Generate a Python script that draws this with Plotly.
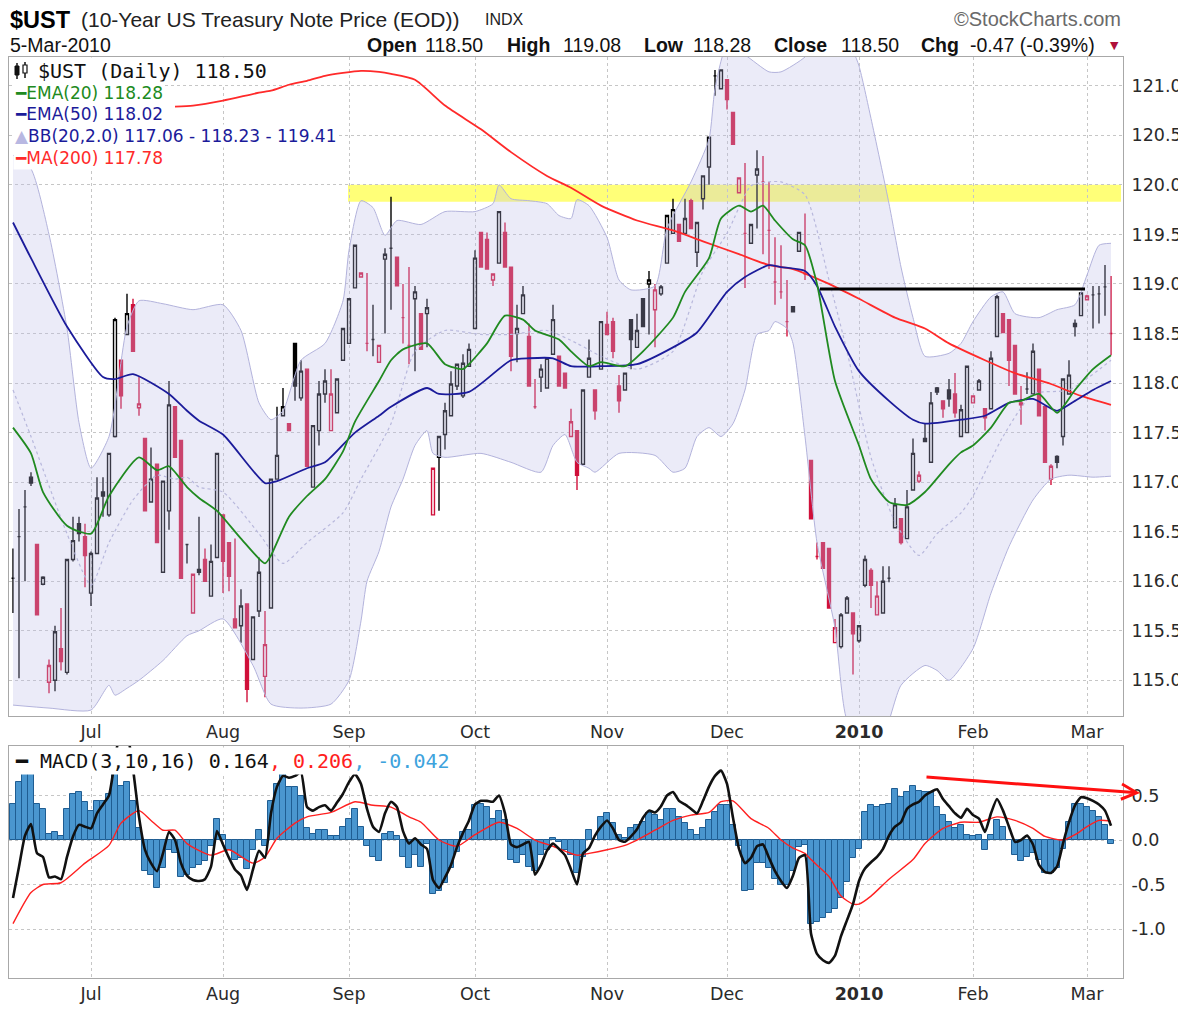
import pandas as pd
import plotly.graph_objects as go

# ---------------- categories (trading days) ----------------
HOLIDAYS = ["2009-07-03", "2009-09-07", "2009-11-26", "2009-12-25",
            "2010-01-01", "2010-01-18", "2010-02-15"]
DATES = [d for d in pd.bdate_range("2009-06-12", "2010-03-05")
         if d.strftime("%Y-%m-%d") not in HOLIDAYS]
X = list(range(len(DATES)))

# ---------------- price data ----------------
OPEN = [116.03,116.45,116.75,117.05,116.37,115.97,114.98,115.00,115.32,115.08,
        116.22,116.58,116.45,115.88,116.28,116.90,116.67,117.46,118.23,118.49,
        118.79,117.75,117.44,116.80,117.18,116.09,116.71,117.76,117.42,116.37,
        115.68,116.12,116.22,115.85,116.24,116.67,116.39,115.62,115.55,115.77,
        115.21,115.70,115.04,115.73,117.03,117.67,117.59,118.40,117.85,118.14,
        116.95,117.52,117.89,117.52,117.70,118.23,118.40,118.96,119.07,118.40,
        118.44,118.21,119.25,119.36,119.27,118.66,118.38,118.85,118.70,118.70,
        116.67,117.25,117.48,117.67,117.97,117.87,118.17,118.55,119.52,119.45,
        119.04,119.21,119.52,119.17,118.50,118.70,118.47,117.76,118.06,117.95,
        118.29,118.27,118.10,117.46,117.52,117.18,118.06,117.93,118.14,118.59,
        118.62,117.97,117.93,118.64,118.36,118.85,119.00,118.74,118.90,119.21,
        119.51,119.60,119.51,119.84,119.32,119.86,120.18,121.10,120.97,121.06,
        120.73,119.92,119.51,119.41,120.10,120.03,119.54,119.02,118.92,118.62,
        118.77,119.33,119.10,117.22,116.25,116.39,116.33,115.38,115.34,115.68,
        115.68,115.40,115.96,116.11,115.66,115.68,116.03,116.54,116.63,116.43,
        116.92,117.01,117.44,117.20,117.95,117.82,117.93,117.89,117.46,117.50,
        117.80,117.93,117.74,117.74,118.47,118.70,118.64,118.38,117.80,117.94,
        117.89,118.14,117.76,117.03,117.26,117.46,117.89,118.60,118.68,118.84,
        118.89,118.90,118.97,118.50]
HIGH = [116.33,116.73,116.92,117.10,116.37,116.05,115.21,115.55,115.73,116.22,
        116.65,116.65,116.58,116.30,117.05,117.05,117.29,118.66,118.23,118.90,
        118.85,118.06,117.44,117.35,117.18,117.01,118.02,117.76,117.42,116.37,
        116.07,116.65,116.33,116.37,117.29,116.67,116.39,116.43,115.92,115.77,
        115.64,116.24,115.70,117.03,117.76,117.95,117.59,118.40,118.23,118.14,
        117.57,118.02,118.14,118.14,118.04,118.55,118.85,119.39,119.11,119.11,
        118.79,118.38,119.36,119.88,119.27,119.00,119.17,118.98,118.70,118.85,
        117.14,117.46,117.80,118.12,118.19,118.29,118.40,119.34,119.52,119.52,
        119.10,119.73,119.62,119.17,118.79,118.98,118.60,118.04,118.19,118.25,
        118.79,118.27,118.10,117.74,117.52,117.93,118.44,117.93,118.62,118.72,
        118.66,118.08,118.10,118.64,118.70,118.85,119.13,119.00,118.99,119.69,
        119.86,119.60,119.86,119.86,119.62,120.09,120.48,121.16,121.16,121.06,
        120.73,120.07,120.22,119.60,120.35,120.29,120.03,119.47,119.39,119.04,
        118.77,119.52,119.71,117.22,116.39,116.39,116.33,115.62,115.68,115.85,
        115.68,115.55,116.26,116.13,116.00,116.15,116.15,116.84,116.63,116.92,
        117.44,117.11,117.59,117.91,117.96,117.82,118.04,118.10,117.78,118.17,
        117.87,118.04,117.74,118.32,118.89,118.70,118.64,118.38,117.97,118.11,
        118.40,118.14,117.76,117.18,117.27,118.04,118.23,118.64,118.91,118.89,
        118.98,118.98,119.19,119.08]
LOW = [115.68,115.02,116.00,116.96,115.66,115.96,114.87,114.89,115.10,115.06,
       116.20,116.40,115.94,115.75,116.28,116.65,116.65,117.45,117.74,118.49,
       118.32,117.67,116.71,116.80,116.39,116.09,116.52,117.25,116.03,116.18,
       115.68,116.06,116.00,115.85,116.24,115.88,115.90,115.53,115.38,114.78,
       115.21,115.64,114.83,115.73,117.03,117.67,117.52,117.82,117.82,117.16,
       116.95,117.37,117.80,117.52,117.70,118.23,118.40,118.96,119.07,118.32,
       118.27,118.21,118.50,118.74,118.98,118.40,118.19,118.12,118.34,118.36,
       116.67,116.71,117.33,117.67,117.93,117.85,118.17,118.55,119.17,119.15,
       118.98,119.21,119.17,118.12,118.21,118.70,117.97,117.74,117.91,117.95,
       118.29,117.97,117.95,117.46,116.92,117.18,118.06,117.63,118.14,118.49,
       118.25,117.70,117.93,118.14,118.36,118.57,118.49,118.36,118.88,119.21,
       119.51,119.43,119.51,119.56,119.17,119.75,120.00,120.90,120.97,120.76,
       120.41,119.92,118.96,119.41,119.56,119.30,119.15,118.79,118.85,118.47,
       118.72,119.33,119.04,116.63,116.22,116.13,115.73,115.38,115.32,115.68,
       115.06,115.38,115.94,115.73,115.66,115.68,115.99,116.54,116.37,116.43,
       116.92,116.99,117.41,117.20,117.88,117.65,117.76,117.65,117.46,117.50,
       117.80,117.93,117.52,117.74,118.47,118.51,117.97,117.89,117.58,117.89,
       117.89,117.67,117.20,116.97,117.14,117.37,117.89,118.47,118.68,118.84,
       118.55,118.60,118.68,118.28]
CLOSE = [116.03,116.45,116.75,116.99,115.66,116.04,115.15,115.49,115.19,116.22,
         116.41,116.48,116.26,116.28,116.84,116.86,117.29,118.64,117.87,118.70,
         118.32,117.79,116.71,117.03,116.39,117.01,117.78,117.25,116.03,116.37,
         116.07,116.09,116.00,116.20,117.29,116.20,116.05,115.53,115.75,114.91,
         115.64,116.09,115.36,117.03,117.27,117.76,117.52,117.97,118.12,117.16,
         117.57,117.89,118.02,117.89,118.04,118.55,118.85,119.39,119.11,118.40,
         118.44,118.38,119.30,119.36,118.98,118.66,118.38,118.92,118.34,118.76,
         117.14,117.46,117.72,117.99,118.19,118.20,118.34,119.26,119.17,119.15,
         119.10,119.73,119.17,118.27,118.55,118.89,117.97,117.76,118.14,118.25,
         118.64,117.97,117.95,117.61,117.07,117.93,118.25,117.72,118.62,118.49,
         118.32,117.82,118.10,118.44,118.53,118.57,119.04,118.94,118.97,119.69,
         119.75,119.43,119.66,119.56,119.62,120.09,120.48,121.10,121.16,120.86,
         120.41,120.07,119.51,119.60,120.16,120.03,119.54,119.02,118.92,118.62,
         118.72,119.52,119.10,116.63,116.25,116.13,115.73,115.53,115.66,115.83,
         115.47,115.55,116.22,115.96,115.85,116.00,116.03,116.77,116.39,116.75,
         117.29,117.07,117.41,117.80,117.91,117.74,117.84,117.70,117.73,118.17,
         117.87,118.02,117.65,118.25,118.87,118.51,118.23,117.89,117.78,117.94,
         118.32,117.67,117.20,117.16,117.20,118.04,118.08,118.57,118.91,118.88,
         118.89,118.90,118.97,118.50]

# ---------------- overlays (sampled by trading-day index) ----------------
EMA20_IDX = [0,3,5,9,13,16,21,24,26,29,31,34,38,42,43,46,49,52,55,57,61,63,65,69,72,
             75,76,79,82,85,87,91,93,96,98,102,105,110,112,116,118,121,123,125,127,
             130,132,134,137,141,143,146,149,152,156,158,160,163,166,168,171,174,177,180,183]
EMA20_VAL = [117.55,117.29,116.90,116.56,116.48,116.86,117.25,117.12,117.16,116.95,
             116.84,116.71,116.43,116.18,116.26,116.65,116.86,117.03,117.31,117.61,
             118.02,118.23,118.34,118.40,118.19,118.14,118.19,118.40,118.68,118.64,
             118.53,118.44,118.32,118.17,118.21,118.17,118.32,118.66,118.92,119.26,
             119.66,119.79,119.73,119.79,119.64,119.45,119.39,119.00,118.02,117.37,
             117.03,116.80,116.77,116.90,117.18,117.30,117.37,117.55,117.80,117.82,
             117.89,117.70,117.93,118.14,118.28]
EMA50_IDX = [0,3,9,15,17,20,26,29,31,35,42,44,49,52,57,61,63,69,71,76,83,86,90,93,98,
             104,110,114,119,122,126,128,132,134,137,141,146,150,152,158,162,166,170,
             174,177,180,183]
EMA50_VAL = [119.62,119.26,118.57,118.06,118.04,118.09,117.89,117.72,117.62,117.48,
             116.99,117.01,117.14,117.20,117.50,117.67,117.76,117.95,117.89,117.91,
             118.23,118.25,118.25,118.17,118.17,118.19,118.36,118.51,118.92,119.07,
             119.19,119.17,119.13,118.98,118.57,118.12,117.82,117.63,117.59,117.63,
             117.67,117.80,117.84,117.72,117.82,117.93,118.02]
MA200_IDX = [27,30,35,41,43,46,49,52,55,58,61,63,67,72,78,83,89,93,98,104,110,115,121,
             126,130,136,141,147,152,156,162,167,173,178,183]
MA200_VAL = [120.79,120.80,120.85,120.93,120.95,121.01,121.05,121.10,121.13,121.15,
             121.14,121.12,121.06,120.80,120.56,120.33,120.09,119.97,119.79,119.64,
             119.54,119.43,119.30,119.19,119.15,119.00,118.85,118.66,118.55,118.40,
             118.23,118.10,117.99,117.87,117.78]
BBU_IDX = [0,3,6,9,11,13,16,19,21,25,30,35,38,41,43,45,48,52,55,56,58,60,62,64,68,72,
           77,80,81,83,86,89,91,93,94,96,99,101,103,107,109,113,116,117,119,122,126,128,
           132,134,137,140,141,143,146,148,150,152,156,158,160,163,165,167,171,174,177,
           179,181,183]
BBU_VAL = [120.30,120.16,119.50,118.55,117.60,117.14,117.46,118.57,118.83,118.80,
           118.74,118.79,118.53,117.80,117.63,117.72,118.23,118.40,118.83,119.34,
           119.84,119.77,119.49,119.64,119.60,119.73,119.73,119.81,120.00,119.86,
           119.84,119.81,119.69,119.66,119.85,119.79,119.47,119.04,118.94,118.98,
           119.56,120.03,120.46,120.97,121.40,121.31,121.14,121.14,121.29,121.45,
           121.60,121.35,121.20,120.67,119.81,119.17,118.66,118.27,118.30,118.40,
           118.62,118.87,118.92,118.70,118.66,118.74,118.79,119.09,119.39,119.41]
BBL_IDX = [0,6,13,16,17,19,21,25,29,31,35,40,43,48,53,56,58,59,61,63,65,67,69,70,72,
           78,83,88,90,92,94,96,97,101,107,110,112,114,116,118,120,122,124,126,127,129,
           130,132,134,137,139,142,145,148,152,154,156,160,163,166,170,173,176,180,183]
BBL_VAL = [114.75,114.72,114.70,114.95,114.85,114.92,115.00,115.20,115.45,115.50,
           115.62,115.15,114.76,114.72,114.76,115.00,115.60,116.00,116.30,116.75,
           117.03,117.37,117.52,117.29,117.25,117.29,117.20,117.10,117.37,117.48,
           117.20,117.14,117.10,117.29,117.27,117.10,117.14,117.46,117.55,117.46,
           117.59,117.93,118.49,118.53,118.62,118.55,118.40,117.46,116.39,115.53,
           114.60,114.40,114.45,114.95,115.15,115.10,115.00,115.32,115.88,116.35,
           116.82,117.03,117.07,117.05,117.06]
BBM_IDX = [0,3,9,13,16,20,24,27,29,31,35,41,45,49,55,58,63,67,72,78,83,89,94,98,104,
           110,115,119,123,126,128,132,136,139,143,147,151,154,158,160,165,170,176,183]
BBM_VAL = [117.93,117.46,116.48,115.96,116.39,116.82,117.07,117.03,117.05,116.95,
           116.90,116.48,116.18,116.39,116.69,117.03,117.59,118.32,118.53,118.49,
           118.49,118.53,118.40,118.27,118.14,118.32,119.13,119.51,119.99,120.03,
           120.03,119.90,119.04,118.32,117.25,116.60,116.26,116.48,116.69,116.86,
           117.46,117.89,117.93,118.23]

# ---------------- MACD panel ----------------
MACD = [-0.65,-0.30,0.05,0.18,-0.15,-0.19,-0.42,-0.41,-0.44,-0.19,
        0.04,0.17,0.15,0.13,0.30,0.40,0.50,0.90,1.25,1.20,
        0.80,0.26,-0.11,-0.26,-0.35,-0.15,0.09,0.00,-0.26,-0.40,
        -0.45,-0.46,-0.44,-0.30,0.10,-0.05,-0.20,-0.33,-0.40,-0.56,
        -0.33,-0.12,-0.20,0.30,0.60,0.72,0.70,0.72,0.76,0.37,
        0.33,0.37,0.39,0.33,0.42,0.52,0.65,0.74,0.63,0.35,
        0.15,0.09,0.30,0.43,0.37,0.10,-0.04,0.02,-0.05,-0.10,
        -0.45,-0.54,-0.42,-0.28,-0.08,0.08,0.22,0.40,0.44,0.44,
        0.43,0.50,0.30,-0.05,-0.08,-0.05,-0.02,-0.39,-0.28,-0.12,
        -0.04,-0.10,-0.17,-0.33,-0.50,-0.15,-0.09,0.05,0.15,0.22,
        0.13,0.00,-0.02,0.04,0.12,0.25,0.33,0.31,0.38,0.50,
        0.54,0.44,0.40,0.35,0.30,0.44,0.60,0.72,0.78,0.63,
        0.25,-0.10,-0.26,-0.20,-0.07,-0.05,-0.20,-0.35,-0.46,-0.54,
        -0.40,-0.20,-0.17,-1.05,-1.28,-1.35,-1.38,-1.30,-1.08,-0.90,
        -0.72,-0.46,-0.32,-0.25,-0.19,-0.10,0.05,0.15,0.20,0.35,
        0.40,0.43,0.50,0.54,0.57,0.46,0.38,0.30,0.25,0.35,
        0.28,0.24,0.09,0.30,0.46,0.33,0.15,-0.02,0.00,0.05,
        -0.05,-0.28,-0.36,-0.37,-0.30,-0.04,0.20,0.39,0.48,0.47,
        0.44,0.40,0.33,0.16]
SIG_IDX = [0,3,5,8,12,16,18,21,23,25,27,29,33,36,40,42,44,47,49,53,57,60,63,66,68,71,
           74,77,81,84,87,90,94,96,99,102,104,107,110,113,116,118,120,123,126,128,130,
           132,133,136,138,140,141,143,146,150,152,155,158,161,164,167,170,172,175,177,
           179,181,183]
SIG_VAL = [-0.94,-0.59,-0.50,-0.48,-0.26,-0.06,0.19,0.33,0.22,0.11,0.11,-0.04,-0.17,
           -0.11,-0.26,-0.19,0.02,0.19,0.26,0.31,0.43,0.39,0.37,0.26,0.20,0.00,-0.07,
           0.06,0.20,0.13,0.00,-0.07,-0.17,-0.15,-0.11,-0.06,0.00,0.11,0.22,0.28,0.31,
           0.43,0.44,0.24,0.13,0.00,-0.09,-0.15,-0.22,-0.41,-0.63,-0.72,-0.72,-0.63,
           -0.44,-0.22,-0.04,0.13,0.20,0.20,0.26,0.22,0.13,0.04,0.00,0.06,0.15,0.22,0.21]
HIST = [0.41,0.65,0.76,0.76,0.41,0.35,0.07,0.09,0.04,0.35,
        0.52,0.54,0.43,0.33,0.44,0.44,0.52,0.76,0.61,0.65,
        0.44,0.13,-0.35,-0.39,-0.54,-0.31,-0.11,-0.15,-0.41,-0.39,
        -0.31,-0.28,-0.24,-0.07,0.24,0.06,-0.11,-0.22,-0.20,-0.33,
        -0.11,0.11,-0.07,0.44,0.63,0.74,0.59,0.59,0.50,0.13,
        0.07,0.11,0.11,0.04,0.04,0.15,0.24,0.35,0.15,-0.07,
        -0.19,-0.24,0.07,0.09,0.05,-0.19,-0.31,-0.17,-0.30,-0.04,
        -0.61,-0.57,-0.48,-0.31,-0.13,0.09,0.11,0.39,0.41,0.37,
        0.24,0.33,0.22,-0.22,-0.26,-0.17,-0.30,-0.35,-0.17,-0.11,
        0.02,-0.02,-0.11,-0.17,-0.37,-0.19,0.11,0.00,0.26,0.30,
        0.19,0.06,0.02,0.13,0.17,0.20,0.30,0.28,0.22,0.35,
        0.35,0.26,0.19,0.11,0.06,0.13,0.22,0.31,0.39,0.39,
        0.17,-0.07,-0.57,-0.56,-0.26,-0.26,-0.31,-0.44,-0.50,-0.50,
        -0.35,-0.08,-0.06,-0.94,-0.92,-0.88,-0.82,-0.78,-0.65,-0.47,
        -0.20,-0.10,0.31,0.39,0.37,0.39,0.41,0.57,0.48,0.54,
        0.61,0.55,0.54,0.54,0.37,0.28,0.20,0.13,0.17,0.06,
        0.04,0.06,-0.11,0.06,0.22,0.15,0.00,-0.17,-0.24,-0.19,
        -0.15,-0.22,-0.37,-0.37,-0.31,-0.10,0.20,0.41,0.41,0.37,
        0.33,0.26,0.17,-0.04]

PRICE_TICKS = [115.0, 115.5, 116.0, 116.5, 117.0, 117.5, 118.0, 118.5, 119.0, 119.5, 120.0, 120.5, 121.0]
MACD_TICKS = [-1.0, -0.5, 0.0, 0.5]

# annotation levels
RESIST_BAND = (119.83, 120.0)
RESIST_LINE = 118.95

# ---------------- geometry (page pixels; the page body has an 8px margin) ----------------
PAGE_W, PAGE_H = 1186, 1010
BODY = 8
W, H = PAGE_W - BODY, PAGE_H - BODY
PLOT_L, PLOT_R, PLOT_T, PLOT_B = 9, 1123, 57, 978   # plot area in page pixels
ML, MT = PLOT_L - BODY, PLOT_T - BODY
MR, MB = PAGE_W - PLOT_R, PAGE_H - PLOT_B
PW, PH = PLOT_R - PLOT_L, PLOT_B - PLOT_T


def px(x):
    return (x - PLOT_L) / PW


def py(y):
    return (PLOT_B - y) / PH


def xi(xpix):  # page pixel column -> trading-day index position
    return (xpix - 13) / 6.0


# month ticks
tick_idx, tick_txt = [], []
for i in range(1, len(DATES)):
    if DATES[i].month != DATES[i - 1].month:
        tick_idx.append(i)
        tick_txt.append("<b>2010</b>" if DATES[i].month == 1 else DATES[i].strftime("%b"))

RED = "#d0103a"
prev_close = [CLOSE[0]] + CLOSE[:-1]
is_black = [c >= p for c, p in zip(CLOSE, prev_close)]


def pick(vals, mask):
    return [v if m else None for v, m in zip(vals, mask)]


fig = go.Figure()

# Bollinger band
fig.add_trace(go.Scatter(x=BBU_IDX, y=BBU_VAL, mode="lines", line=dict(color="#b3b3dc", width=1, shape="spline", smoothing=0.6),
                         hoverinfo="skip", showlegend=False))
fig.add_trace(go.Scatter(x=BBL_IDX, y=BBL_VAL, mode="lines", line=dict(color="#b3b3dc", width=1, shape="spline", smoothing=0.6),
                         fill="tonexty", fillcolor="rgba(190,190,232,0.30)", hoverinfo="skip", showlegend=False))
fig.add_trace(go.Scatter(x=BBM_IDX, y=BBM_VAL, mode="lines", line=dict(color="#b8b8dc", width=1.2, dash="dot", shape="spline", smoothing=0.6),
                         hoverinfo="skip", showlegend=False))
# moving averages
fig.add_trace(go.Scatter(x=MA200_IDX, y=MA200_VAL, mode="lines", line=dict(color="#ff2a2a", width=1.8, shape="spline", smoothing=0.6),
                         hoverinfo="skip", showlegend=False))
fig.add_trace(go.Scatter(x=EMA50_IDX, y=EMA50_VAL, mode="lines", line=dict(color="#1b1b9a", width=1.8, shape="spline", smoothing=0.6),
                         hoverinfo="skip", showlegend=False))
fig.add_trace(go.Scatter(x=EMA20_IDX, y=EMA20_VAL, mode="lines", line=dict(color="#208a20", width=1.8, shape="spline", smoothing=0.6),
                         hoverinfo="skip", showlegend=False))

# candles: black (close >= previous close) and red
for mask, col in ((is_black, "#000000"), ([not b for b in is_black], RED)):
    fig.add_trace(go.Candlestick(
        x=X, open=pick(OPEN, mask), high=pick(HIGH, mask), low=pick(LOW, mask), close=pick(CLOSE, mask),
        increasing=dict(line=dict(color=col, width=1.4), fillcolor="rgba(255,255,255,0)"),
        decreasing=dict(line=dict(color=col, width=1.4), fillcolor=col),
        whiskerwidth=0, hoverinfo="skip", showlegend=False))

# MACD panel
fig.add_trace(go.Bar(x=X, y=HIST, marker=dict(color="#4a96cf", line=dict(color="#1f5d92", width=1)),
                     xaxis="x2", yaxis="y2", hoverinfo="skip", showlegend=False))
fig.add_trace(go.Scatter(x=SIG_IDX, y=SIG_VAL, mode="lines", line=dict(color="#ff2020", width=1.4, shape="spline", smoothing=0.6),
                         xaxis="x2", yaxis="y2", hoverinfo="skip", showlegend=False))
fig.add_trace(go.Scatter(x=X, y=MACD, mode="lines", line=dict(color="#111111", width=2.6, shape="spline", smoothing=0.5),
                         xaxis="x2", yaxis="y2", hoverinfo="skip", showlegend=False))

GRID = "#c6c6c6"
AX = "#a8a8a8"
TICKFONT = dict(family="DejaVu Sans", size=17.5, color="#2a2a2a")
xrange = [xi(PLOT_L), xi(PLOT_R)]

common_x = dict(range=xrange, tickmode="array", tickvals=tick_idx, ticktext=tick_txt, showgrid=True,
                gridcolor=GRID, griddash="3px,3px", gridwidth=1, showline=True, mirror=True, linecolor=AX,
                linewidth=1, ticks="", zeroline=False, tickfont=TICKFONT, fixedrange=True)
common_y = dict(side="right", showgrid=True, gridcolor=GRID, griddash="3px,3px", gridwidth=1, showline=True,
                mirror=True, linecolor=AX, linewidth=1, ticks="", zeroline=False, tickfont=TICKFONT,
                ticklabelstandoff=4, fixedrange=True)

fig.update_layout(
    width=W, height=H, margin=dict(l=ML, r=MR, t=MT, b=MB, autoexpand=False),
    paper_bgcolor="white", plot_bgcolor="white", bargap=0, showlegend=False,
    xaxis=dict(**common_x, domain=[0, 1], anchor="y", rangeslider=dict(visible=False)),
    yaxis=dict(**common_y, domain=[py(716), 1], anchor="x", range=[114.64, 121.29],
               tickvals=PRICE_TICKS, tickformat=".1f"),
    xaxis2=dict(**common_x, domain=[0, 1], anchor="y2"),
    yaxis2=dict(**common_y, domain=[0, py(746)], anchor="x2", range=[-1.55, 1.056],
                tickvals=MACD_TICKS, ticktext=["%.1f" % v for v in MACD_TICKS]),
)

shapes = [
    dict(type="rect", xref="x", yref="y", x0=xi(348), x1=xi(1121), y0=RESIST_BAND[0], y1=RESIST_BAND[1],
         fillcolor="#ffff78", line=dict(width=0), layer="below"),
    dict(type="line", xref="x", yref="y", x0=xi(820), x1=xi(1085), y0=RESIST_LINE, y1=RESIST_LINE,
         line=dict(color="black", width=3), layer="above"),
]

ann = []


def txt(x, y, text, size=17, color="#111", family="DejaVu Sans", anchor="left", bg=None, pad=1):
    d = dict(x=px(x), y=py(y), xref="paper", yref="paper", text=text, showarrow=False,
             xanchor=anchor, yanchor="middle", borderpad=pad,
             font=dict(family=family, size=size, color=color))
    if bg:
        d.update(bgcolor=bg)
    ann.append(d)


ARIAL = "Liberation Sans"
# header
txt(9, 20, "<b>$UST</b>", size=23.5, color="#000", family=ARIAL, pad=0)
txt(80, 20, "(10-Year US Treasury Note Price (EOD))", size=21, color="#222", family=ARIAL, pad=0)
txt(484, 20, "INDX", size=16, color="#222", family=ARIAL, pad=0)
txt(1122, 19, "©StockCharts.com", size=20, color="#6a6a6a", family=ARIAL, anchor="right", pad=0)
txt(9, 45, "5-Mar-2010", size=19.5, color="#111", family=ARIAL, pad=0)
HEADER_ITEMS = [("<b>Open</b>", 366), ("118.50", 424), ("<b>High</b>", 506), ("119.08", 562),
                ("<b>Low</b>", 643), ("118.28", 692), ("<b>Close</b>", 773), ("118.50", 840),
                ("<b>Chg</b>", 920), ("-0.47 (-0.39%)", 969)]
for t, xx in HEADER_ITEMS:
    txt(xx, 45, t, size=19.5, color="#111", family=ARIAL, pad=0)
txt(1109, 46, "▼", size=11, color="#b0103a", pad=0)

# price legend
txt(36, 71, "$UST (Daily) 118.50", size=20, color="#111", family="DejaVu Sans Mono", bg="white")
txt(13, 93, "<span style='color:#208a20'>━</span>EMA(20) 118.28", size=17, color="#208a20", bg="white")
txt(13, 114, "<span style='color:#1b1b9a'>━</span>EMA(50) 118.02", size=17, color="#1b1b9a", bg="white")
txt(13, 136, "<span style='color:#b8b8e2'>▲</span>BB(20,2.0) 117.06 - 118.23 - 119.41", size=17, color="#1b1b9a", bg="white")
txt(13, 158, "<span style='color:#ff2a2a'>━</span>MA(200) 117.78", size=17, color="#ff2a2a", bg="white")

# MACD legend
txt(13, 761, "━ MACD(3,10,16) 0.164<span style='color:#ff2020'>, 0.206</span>"
             "<span style='color:#3ea3dd'>, -0.042</span>", size=20, color="#111",
    family="DejaVu Sans Mono", bg="white")

# divergence arrow
ann.append(dict(x=px(1140), y=py(793), xref="paper", yref="paper", ax=925 - 1140, ay=777 - 793,
                axref="pixel", ayref="pixel", showarrow=True, arrowhead=5, arrowsize=1,
                arrowwidth=3, arrowcolor="#ff1010", text=""))

fig.update_layout(annotations=ann)

# small candle icon in legend
icon = [
    dict(type="line", xref="paper", yref="paper", x0=px(17), x1=px(17), y0=py(63), y1=py(79), line=dict(color="#111", width=1.5)),
    dict(type="rect", xref="paper", yref="paper", x0=px(15), x1=px(19), y0=py(66), y1=py(75), fillcolor="#111", line=dict(color="#111", width=1)),
    dict(type="line", xref="paper", yref="paper", x0=px(25), x1=px(25), y0=py(62), y1=py(78), line=dict(color="#111", width=1.5)),
    dict(type="rect", xref="paper", yref="paper", x0=px(23), x1=px(27), y0=py(65), y1=py(73), fillcolor="white", line=dict(color="#111", width=1.2)),
]
fig.update_layout(shapes=shapes + icon)

fig.write_html("out.html")
